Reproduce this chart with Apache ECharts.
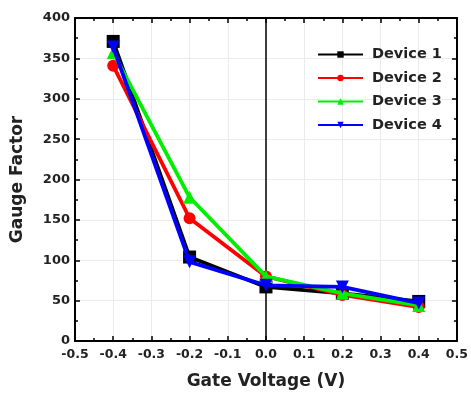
<!DOCTYPE html>
<html><head><meta charset="utf-8">
<script src="https://cdn.jsdelivr.net/npm/echarts@6/dist/echarts.min.js"></script>
<style>html,body{margin:0;padding:0;background:#fff}#c{width:471px;height:400px}</style>
</head><body><div id="c"></div>
<script>
const xValues = [-0.4, -0.2, 0.0, 0.2, 0.4];
const device1 = [371, 104, 67, 59, 49];
const device2 = [341, 152, 80, 57, 42];
const device3 = [357, 178, 80, 59, 44];
const device4 = [364, 98, 69, 67, 47];
const seriesNames = ['Device 1', 'Device 2', 'Device 3', 'Device 4'];
const seriesColors = ['#000000', '#ff0000', '#00ee00', '#0000ff'];
const seriesSymbols = ['rect', 'circle', 'triangle', 'path://M0,0 L10,0 L5,10 Z'];
const allData = [device1, device2, device3, device4];

const FONT = '"DejaVu Sans", sans-serif';
const chart = echarts.init(document.getElementById('c'));

const axisCommon = {
  axisLine: { show: true, onZero: false, lineStyle: { color: '#000', width: 2 } },
  axisTick: { show: true, inside: true, length: 5, lineStyle: { color: '#000', width: 1.5 } },
  minorTick: { show: true, splitNumber: 2, length: 3, lineStyle: { color: '#000', width: 1.5 } }
};

const series = allData.map((d, i) => ({
  name: seriesNames[i],
  type: 'line',
  data: xValues.map((x, j) => [x, d[j]]),
  symbol: seriesSymbols[i],
  symbolSize: i === 1 ? 12 : 13,
  itemStyle: { color: seriesColors[i] },
  lineStyle: { color: seriesColors[i], width: 3.8 },
  z: 3 + i
}));
series[0].markLine = {
  silent: true, symbol: 'none', label: { show: false },
  lineStyle: { color: '#000', width: 1.5, type: 'solid' },
  data: [{ xAxis: 0 }], z: 1
};

chart.setOption({
  animation: false,
  textStyle: { fontFamily: FONT },
  grid: { left: 75, right: 11, top: 18, bottom: 59, containLabel: false },
  legend: {
    data: seriesNames,
    orient: 'vertical',
    left: 312, top: 42,
    itemWidth: 45, itemHeight: 8, itemGap: 8.5,
    textStyle: { fontFamily: FONT, fontWeight: 'bold', fontSize: 14.5, color: '#222', padding: [0, 0, 0, 4] }
  },
  xAxis: [
    Object.assign({
      type: 'value', min: -0.5, max: 0.5, interval: 0.1, position: 'bottom',
      name: 'Gate Voltage (V)', nameLocation: 'middle', nameGap: 32,
      nameTextStyle: { fontFamily: FONT, fontWeight: 'bold', fontSize: 17, color: '#222' },
      axisLabel: { fontFamily: FONT, fontWeight: 'bold', fontSize: 12.5, color: '#222', margin: 7,
        formatter: v => v.toFixed(1) },
      splitLine: { show: true, lineStyle: { color: '#ebebeb', width: 1 } }
    }, axisCommon),
    Object.assign({
      type: 'value', min: -0.5, max: 0.5, interval: 0.1, position: 'top',
      axisLabel: { show: false }, splitLine: { show: false }
    }, axisCommon)
  ],
  yAxis: [
    Object.assign({
      type: 'value', min: 0, max: 400, interval: 50, position: 'left',
      name: 'Gauge Factor', nameLocation: 'middle', nameGap: 49, nameRotate: 90,
      nameTextStyle: { fontFamily: FONT, fontWeight: 'bold', fontSize: 17, color: '#222' },
      axisLabel: { fontFamily: FONT, fontWeight: 'bold', fontSize: 13, color: '#222', margin: 5 },
      splitLine: { show: true, lineStyle: { color: '#ebebeb', width: 1 } }
    }, axisCommon),
    Object.assign({
      type: 'value', min: 0, max: 400, interval: 50, position: 'right',
      axisLabel: { show: false }, splitLine: { show: false }
    }, axisCommon)
  ],
  series: series
});
</script></body></html>
